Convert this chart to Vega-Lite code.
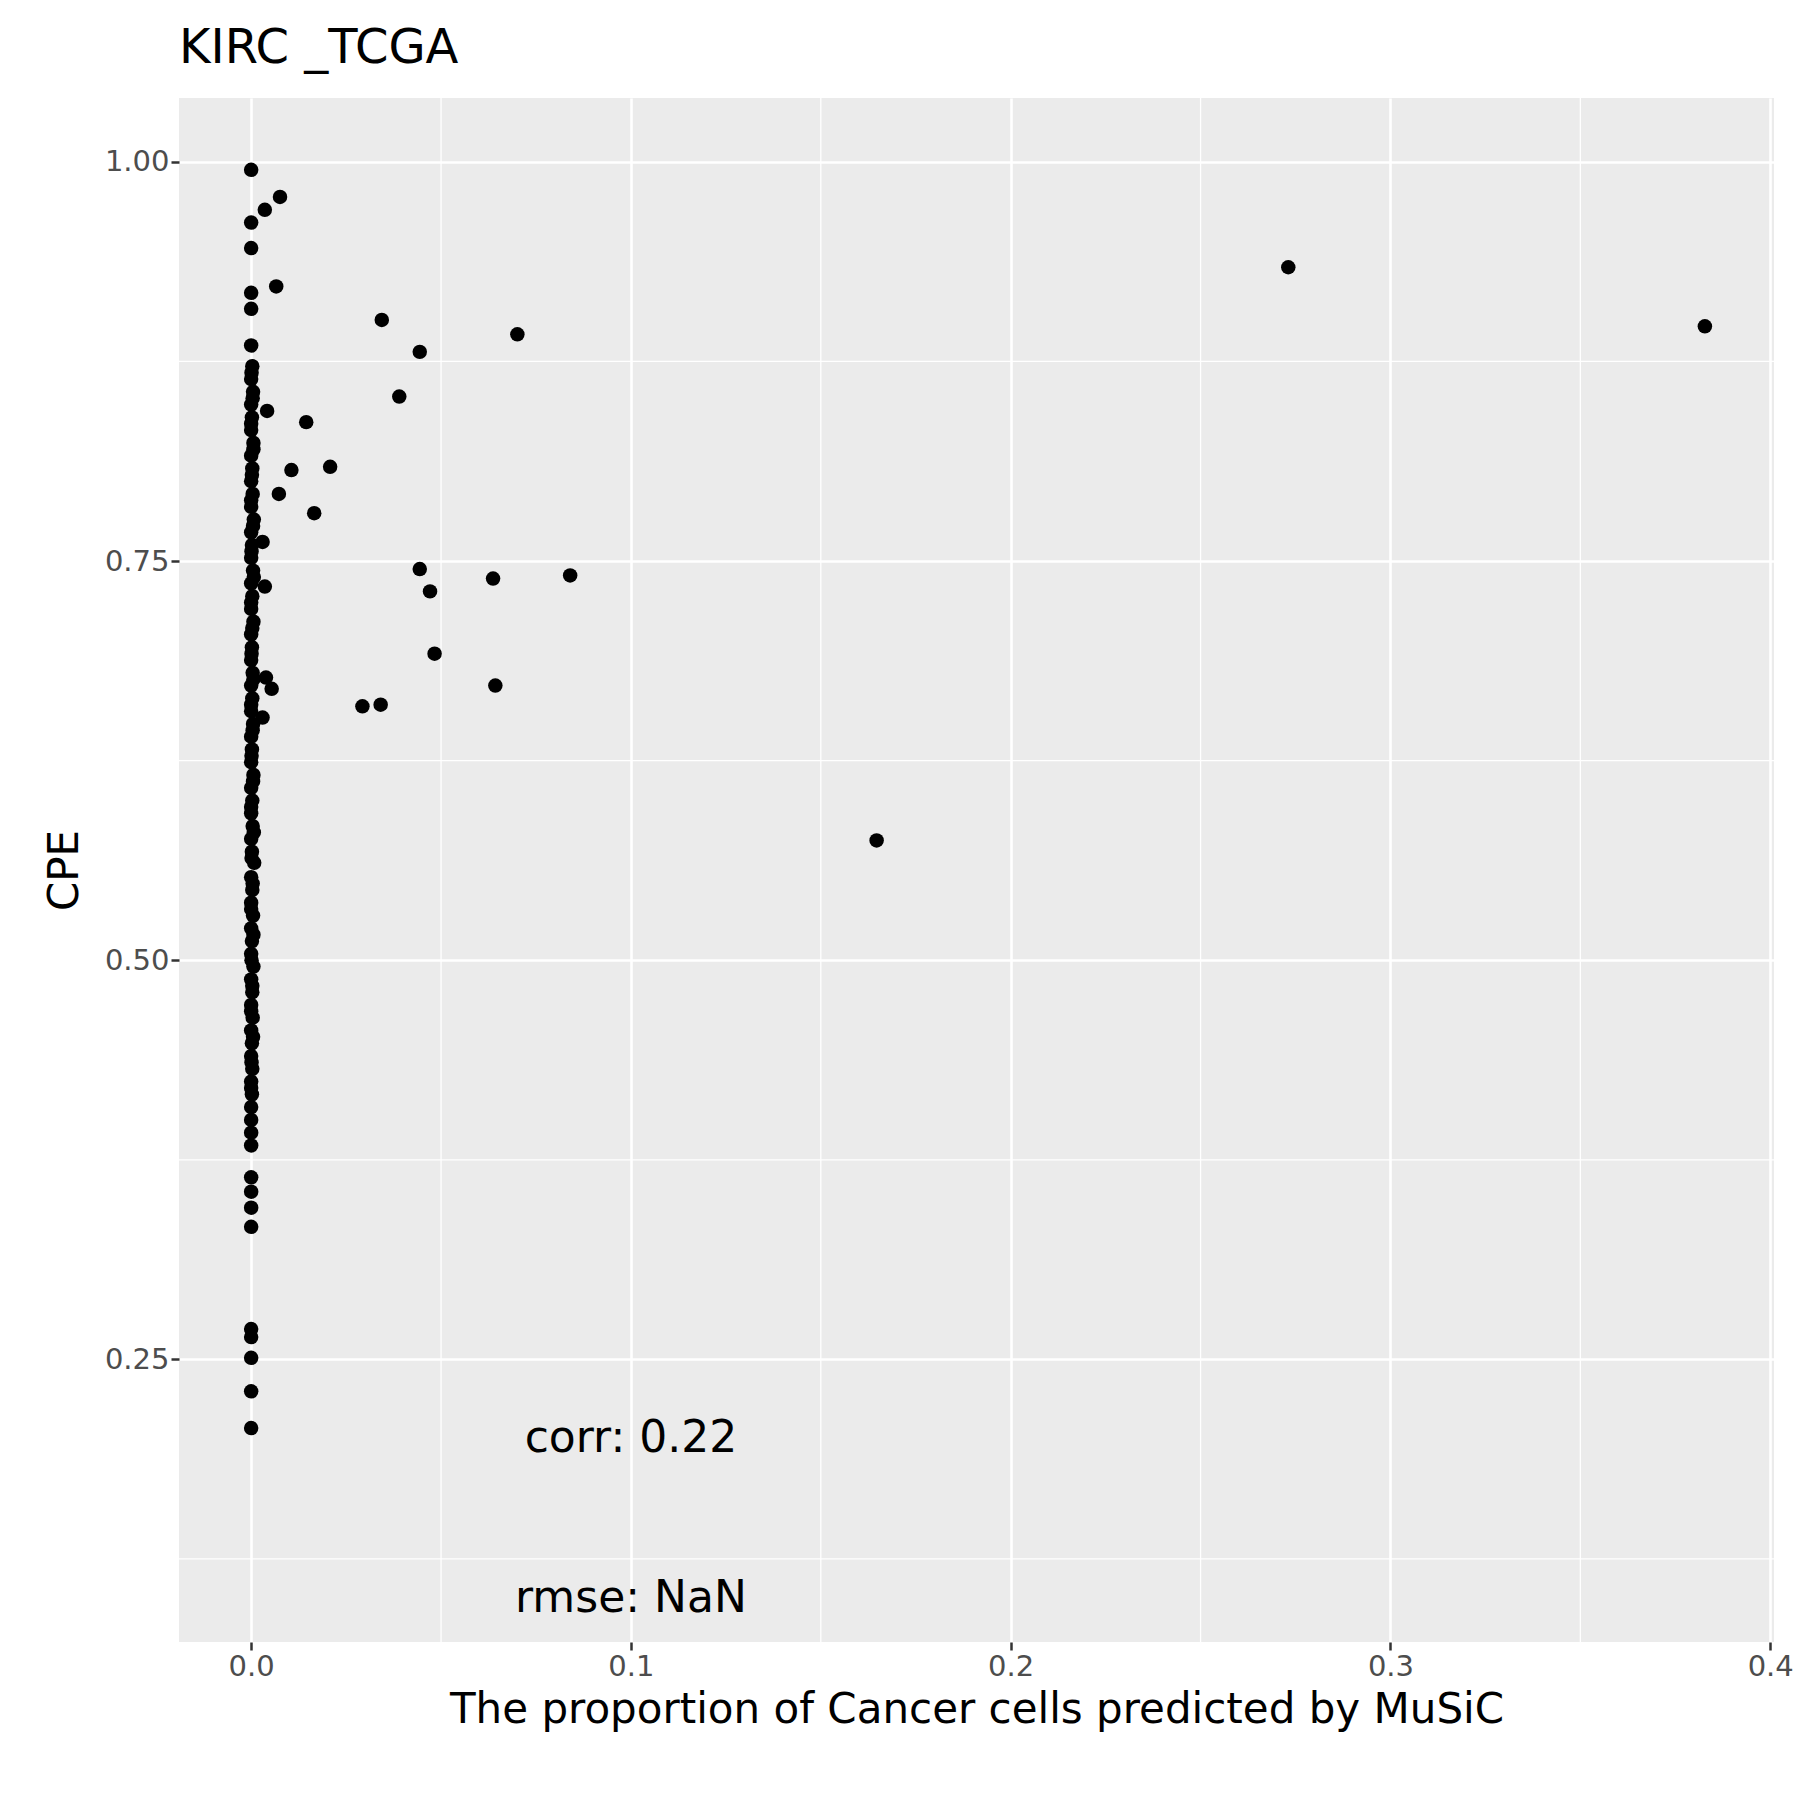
{
  "$schema": "https://vega.github.io/schema/vega-lite/v6.json",
  "width": 1595,
  "height": 1544,
  "autosize": {"type": "none"},
  "padding": {"left": 179, "top": 98, "right": 26, "bottom": 158},
  "background": "white",
  "config": {
    "font": "DejaVu Sans",
    "view": {"fill": "#EBEBEB", "stroke": null},
    "axis": {"domain": false, "gridColor": "white", "gridWidth": 2.6, "tickColor": "#333333", "tickSize": 8, "tickWidth": 2.5, "labelColor": "#4D4D4D", "labelFontSize": 29, "titleFontSize": 42, "titleFontWeight": "normal", "titleColor": "black"}
  },
  "title": {"text": "KIRC _TCGA", "anchor": "start", "frame": "group", "fontSize": 48, "fontWeight": "normal", "offset": 24},
  "layer": [
    {
      "data": {"values": [{"v": 0.05}, {"v": 0.15}, {"v": 0.25}, {"v": 0.35}]},
      "mark": {"type": "rule", "color": "white", "strokeWidth": 1.3},
      "encoding": {"x": {"field": "v", "type": "quantitative"}}
    },
    {
      "data": {"values": [{"v": 0.125}, {"v": 0.375}, {"v": 0.625}, {"v": 0.875}]},
      "mark": {"type": "rule", "color": "white", "strokeWidth": 1.3},
      "encoding": {"y": {"field": "v", "type": "quantitative"}}
    },
    {
      "data": {"values": [
        {"x": 0, "y": 0.995}, {"x": 0, "y": 0.962}, {"x": 0, "y": 0.946}, {"x": 0, "y": 0.918}, {"x": 0, "y": 0.908},
        {"x": 0, "y": 0.885}, {"x": 0.0003, "y": 0.872}, {"x": 0, "y": 0.864}, {"x": 0.0005, "y": 0.856}, {"x": 0, "y": 0.848},
        {"x": 0.0002, "y": 0.84}, {"x": 0, "y": 0.832}, {"x": 0.0006, "y": 0.824}, {"x": 0, "y": 0.816}, {"x": 0.0003, "y": 0.808},
        {"x": 0, "y": 0.8}, {"x": 0.0004, "y": 0.792}, {"x": 0, "y": 0.784}, {"x": 0.0007, "y": 0.776}, {"x": 0, "y": 0.768},
        {"x": 0.0002, "y": 0.76}, {"x": 0, "y": 0.752}, {"x": 0.0005, "y": 0.744}, {"x": 0, "y": 0.736}, {"x": 0.0003, "y": 0.728},
        {"x": 0, "y": 0.72}, {"x": 0.0006, "y": 0.712}, {"x": 0, "y": 0.704}, {"x": 0.0002, "y": 0.696}, {"x": 0, "y": 0.688},
        {"x": 0.0004, "y": 0.68}, {"x": 0, "y": 0.672}, {"x": 0.0003, "y": 0.664}, {"x": 0, "y": 0.656}, {"x": 0.0005, "y": 0.648},
        {"x": 0, "y": 0.64}, {"x": 0.0002, "y": 0.632}, {"x": 0, "y": 0.624}, {"x": 0.0006, "y": 0.616}, {"x": 0, "y": 0.608},
        {"x": 0.0003, "y": 0.6}, {"x": 0, "y": 0.592}, {"x": 0.0004, "y": 0.584}, {"x": 0, "y": 0.576}, {"x": 0.0002, "y": 0.568},
        {"x": 0.0008, "y": 0.561}, {"x": 0, "y": 0.552}, {"x": 0.0003, "y": 0.544}, {"x": 0, "y": 0.536}, {"x": 0.0005, "y": 0.528},
        {"x": 0, "y": 0.52}, {"x": 0.0002, "y": 0.512}, {"x": 0, "y": 0.504}, {"x": 0.0006, "y": 0.496}, {"x": 0, "y": 0.488},
        {"x": 0.0003, "y": 0.48}, {"x": 0, "y": 0.472}, {"x": 0.0004, "y": 0.464}, {"x": 0, "y": 0.456}, {"x": 0.0002, "y": 0.448},
        {"x": 0, "y": 0.44}, {"x": 0.0003, "y": 0.432}, {"x": 0, "y": 0.424}, {"x": 0.0002, "y": 0.416}, {"x": 0, "y": 0.408},
        {"x": 0.0001, "y": 0.868}, {"x": 0.0004, "y": 0.852}, {"x": 0, "y": 0.836}, {"x": 0.0006, "y": 0.82}, {"x": 0.0002, "y": 0.804},
        {"x": 0, "y": 0.788}, {"x": 0.0005, "y": 0.772}, {"x": 0.0001, "y": 0.756}, {"x": 0.0007, "y": 0.74}, {"x": 0, "y": 0.724},
        {"x": 0.0003, "y": 0.708}, {"x": 0.0001, "y": 0.692}, {"x": 0.0006, "y": 0.676}, {"x": 0, "y": 0.66}, {"x": 0.0004, "y": 0.644},
        {"x": 0.0001, "y": 0.628}, {"x": 0.0005, "y": 0.612}, {"x": 0, "y": 0.596}, {"x": 0.0007, "y": 0.58}, {"x": 0.0001, "y": 0.564},
        {"x": 0.0004, "y": 0.548}, {"x": 0, "y": 0.532}, {"x": 0.0006, "y": 0.516}, {"x": 0.0001, "y": 0.5}, {"x": 0.0003, "y": 0.484},
        {"x": 0, "y": 0.468}, {"x": 0.0005, "y": 0.452}, {"x": 0.0001, "y": 0.436}, {"x": 0, "y": 0.42},
        {"x": 0, "y": 0.4}, {"x": 0, "y": 0.392}, {"x": 0, "y": 0.384}, {"x": 0, "y": 0.364}, {"x": 0, "y": 0.355},
        {"x": 0, "y": 0.345}, {"x": 0, "y": 0.333}, {"x": 0, "y": 0.269}, {"x": 0, "y": 0.264}, {"x": 0, "y": 0.251},
        {"x": 0, "y": 0.23}, {"x": 0, "y": 0.207},
        {"x": 0.0036, "y": 0.97}, {"x": 0.0076, "y": 0.978}, {"x": 0.0066, "y": 0.922}, {"x": 0.0042, "y": 0.844},
        {"x": 0.0145, "y": 0.837}, {"x": 0.0106, "y": 0.807}, {"x": 0.0208, "y": 0.809}, {"x": 0.0073, "y": 0.792},
        {"x": 0.0166, "y": 0.78}, {"x": 0.003, "y": 0.762}, {"x": 0.0036, "y": 0.734}, {"x": 0.0039, "y": 0.677},
        {"x": 0.0054, "y": 0.67}, {"x": 0.003, "y": 0.652}, {"x": 0.0344, "y": 0.901}, {"x": 0.0444, "y": 0.881},
        {"x": 0.0701, "y": 0.892}, {"x": 0.039, "y": 0.853}, {"x": 0.0444, "y": 0.745}, {"x": 0.0471, "y": 0.731},
        {"x": 0.0637, "y": 0.739}, {"x": 0.084, "y": 0.741}, {"x": 0.0483, "y": 0.692}, {"x": 0.0643, "y": 0.672},
        {"x": 0.0293, "y": 0.659}, {"x": 0.0341, "y": 0.66}, {"x": 0.1647, "y": 0.575}, {"x": 0.2731, "y": 0.934},
        {"x": 0.3828, "y": 0.897}
      ]},
      "mark": {"type": "circle", "color": "black", "opacity": 1, "size": 210},
      "encoding": {
        "x": {"field": "x", "type": "quantitative", "title": "The proportion of Cancer cells predicted by MuSiC",
          "scale": {"domain": [-0.019, 0.401], "nice": false, "zero": false},
          "axis": {"values": [0, 0.1, 0.2, 0.3, 0.4], "format": ".1f", "titlePadding": 8}},
        "y": {"field": "y", "type": "quantitative", "title": "CPE",
          "scale": {"domain": [0.073, 1.04], "nice": false, "zero": false},
          "axis": {"values": [0.25, 0.5, 0.75, 1.0], "format": ".2f", "titlePadding": 18}}
      }
    },
    {
      "data": {"values": [{"x": 0.1, "y": 0.2, "t": "corr: 0.22"}, {"x": 0.1, "y": 0.1, "t": "rmse: NaN"}]},
      "mark": {"type": "text", "fontSize": 44, "color": "black"},
      "encoding": {
        "x": {"field": "x", "type": "quantitative"},
        "y": {"field": "y", "type": "quantitative"},
        "text": {"field": "t"}
      }
    }
  ]
}
